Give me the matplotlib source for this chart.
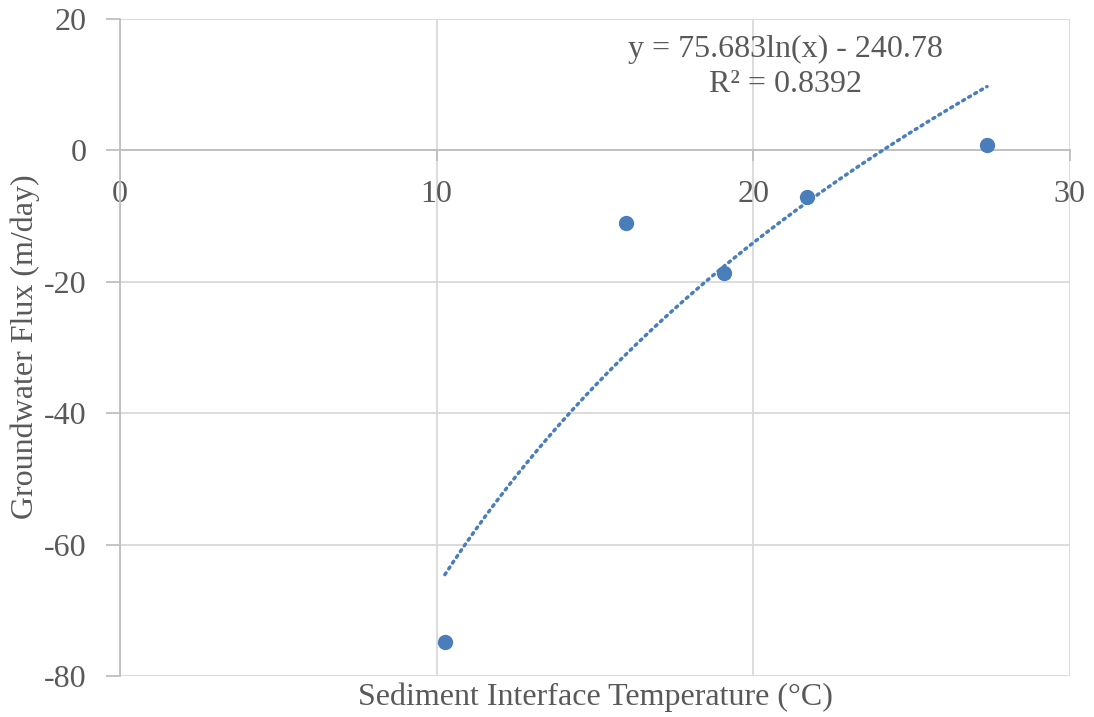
import numpy as np
import matplotlib
matplotlib.use('Agg')
import matplotlib.pyplot as plt

# Measured temperature vs flux
temperature = [10.26, 15.98, 19.07, 21.7, 27.38]
flux = [-74.8, -11.05, -18.6, -7.1, 0.8]

# Log trendline coefficients
coef_a = 75.683
coef_b = -240.78
r_squared = 0.8392

x_ticks = [0, 10, 20, 30]
y_ticks = [20, 0, -20, -40, -60, -80]

TEXT_COLOR = '#595959'
GRID_COLOR = '#d9d9d9'
AXIS_COLOR = '#bfbfbf'
POINT_COLOR = '#4a7ebb'

plt.rcParams['font.family'] = ['Liberation Serif', 'DejaVu Serif']
plt.rcParams['axes.unicode_minus'] = False

fig = plt.figure(figsize=(10.94, 7.17), dpi=100)
ax = fig.add_axes([0.1097, 0.0572, 0.8683, 0.9163])

ax.set_xlim(0, 30)
ax.set_ylim(-80, 20)
ax.set_xticks(x_ticks)
ax.set_yticks(y_ticks)

# Gridlines behind everything
ax.grid(True, color=GRID_COLOR, linewidth=1.3)
ax.set_axisbelow(True)

# Excel style axes: y axis on left, x axis crossing at zero
for side in ['top', 'right']:
    ax.spines[side].set_visible(False)
ax.spines['bottom'].set_position(('data', 0))
ax.spines['bottom'].set_color(AXIS_COLOR)
ax.spines['left'].set_color(AXIS_COLOR)
ax.spines['bottom'].set_linewidth(1.3)
ax.spines['left'].set_linewidth(1.3)

ax.tick_params(axis='y', direction='out', length=10, width=1.3, color=AXIS_COLOR,
               labelsize=23, labelcolor=TEXT_COLOR, pad=14)
ax.tick_params(axis='x', direction='out', length=8, width=1.3, color=AXIS_COLOR,
               labelsize=23, labelcolor=TEXT_COLOR, pad=13)

# Data points
ax.plot(temperature, flux, 'o', color=POINT_COLOR, markersize=10, zorder=3)

# Logarithmic trendline over the data range
trend_x = np.linspace(min(temperature), max(temperature), 200)
trend_y = coef_a * np.log(trend_x) + coef_b
ax.plot(trend_x, trend_y, color=POINT_COLOR, linestyle=(0, (0.6, 1.4)), linewidth=2.5,
        dash_capstyle='round', zorder=3)

ax.text(21.03, 12.7, f"y = {coef_a}ln(x) - {abs(coef_b)}\nR² = {r_squared}",
        ha='center', va='center', fontsize=23, color=TEXT_COLOR, linespacing=1.3)

fig.text(0.5439, 0.028, "Sediment Interface Temperature (°C)", ha='center', va='center',
         fontsize=23, color=TEXT_COLOR)
fig.text(0.0229, 0.516, "Groundwater Flux (m/day)", ha='center', va='center',
         rotation=90, fontsize=23, color=TEXT_COLOR)

fig.savefig('out.png', dpi=100)
